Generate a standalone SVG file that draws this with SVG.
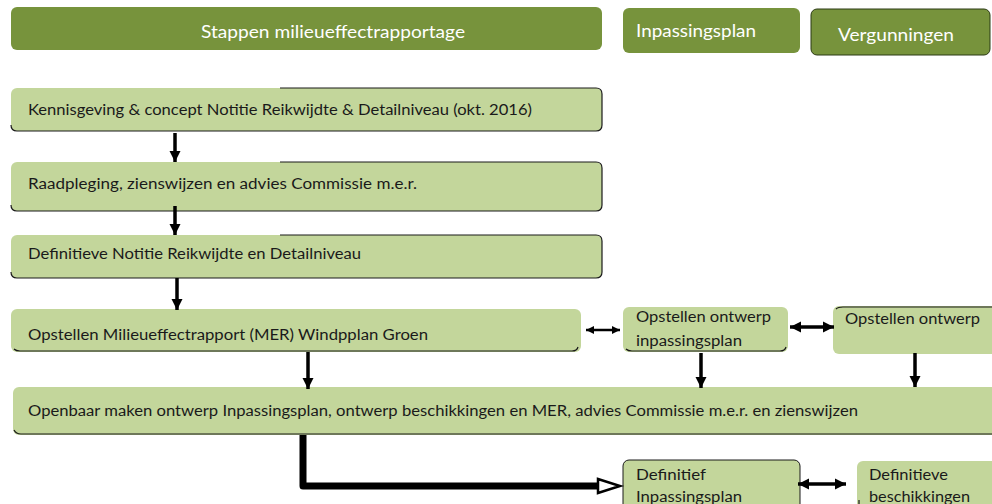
<svg xmlns="http://www.w3.org/2000/svg" width="992" height="504" viewBox="0 0 992 504">
<defs>
<style>
.hdr{fill:#77933C}
.box{fill:#C3D69B}
.edge{fill:none;stroke:#1a1a1a;stroke-width:1.2}
.t{font-family:Lato,"Open Sans","Liberation Sans",sans-serif;font-size:15.5px;fill:#1a1a1a}
.th{font-family:Lato,"Open Sans","Liberation Sans",sans-serif;font-size:17px;fill:#ffffff}
.ln{stroke:#000;stroke-width:3.5;fill:none}
</style>
<marker id="ah" viewBox="0 0 10 10" refX="10" refY="5" markerWidth="3.2" markerHeight="3.2" orient="auto-start-reverse" markerUnits="strokeWidth">
<path d="M0,0 L10,5 L0,10 Z" fill="#000"/>
</marker>
</defs>
<rect width="992" height="504" fill="#fff"/>
<g id="header-mer">
<rect class="hdr" x="11" y="7" width="591" height="43" rx="6"/>
<text class="th" x="333" y="38" text-anchor="middle" textLength="264" lengthAdjust="spacingAndGlyphs">Stappen milieueffectrapportage</text>
</g>
<g id="header-inpassingsplan">
<rect class="hdr" x="623" y="8" width="177" height="45" rx="6"/>
<text class="th" x="636" y="37" textLength="120" lengthAdjust="spacingAndGlyphs">Inpassingsplan</text>
</g>
<g id="header-vergunningen">
<rect class="hdr" x="811" y="9" width="179" height="46" rx="6" stroke="#2b3a14" stroke-width="1"/>
<text class="th" x="838" y="41" textLength="116" lengthAdjust="spacingAndGlyphs">Vergunningen</text>
</g>
<g id="kennisgeving">
<rect class="box" x="11" y="88" width="591" height="43" rx="6"/>
<path class="edge" d="M280,88 H596 Q602,88 602,94 V125 Q602,131 596,131 H17 Q11,131 11,125"/>
<text class="t" x="28" y="115" textLength="504" lengthAdjust="spacingAndGlyphs">Kennisgeving &amp; concept Notitie Reikwijdte &amp; Detailniveau (okt. 2016)</text>
</g>
<g id="raadpleging">
<rect class="box" x="11" y="162" width="591" height="49" rx="6"/>
<path class="edge" d="M280,162 H596 Q602,162 602,168 V205 Q602,211 596,211 H17 Q11,211 11,205"/>
<text class="t" x="28" y="189" textLength="389" lengthAdjust="spacingAndGlyphs">Raadpleging, zienswijzen en advies  Commissie m.e.r.</text>
</g>
<g id="definitieve-notitie">
<rect class="box" x="11" y="235" width="591" height="43" rx="6"/>
<path class="edge" d="M280,235 H596 Q602,235 602,241 V272 Q602,278 596,278 H17 Q11,278 11,272"/>
<text class="t" x="28" y="259" textLength="333" lengthAdjust="spacingAndGlyphs">Definitieve Notitie Reikwijdte en Detailniveau</text>
</g>
<g id="opstellen-mer">
<rect class="box" x="11" y="309" width="570" height="43" rx="6"/>
<path class="edge" d="M14,349 Q16,351 20,351 H572 Q577,351 578,347"/>
<text class="t" x="28" y="340" textLength="400" lengthAdjust="spacingAndGlyphs">Opstellen Milieueffectrapport (MER) Windpplan Groen</text>
</g>
<g id="ontwerp-inpassingsplan">
<rect class="box" x="623" y="307" width="165" height="45" rx="6"/>
<path class="edge" d="M626,349 Q628,351 632,351 H780 Q785,351 786,347"/>
<text class="t" x="636" y="322" textLength="135" lengthAdjust="spacingAndGlyphs">Opstellen ontwerp</text>
<text class="t" x="636" y="346" textLength="106" lengthAdjust="spacingAndGlyphs">inpassingsplan</text>
</g>
<g id="ontwerp-vergunningen">
<rect class="box" x="833" y="306" width="165" height="48" rx="6"/>
<path class="edge" d="M836,309 Q838,307 843,307 H992"/>
<text class="t" x="845" y="324" textLength="135" lengthAdjust="spacingAndGlyphs">Opstellen ontwerp</text>
</g>
<g id="openbaar-maken">
<rect class="box" x="13" y="387" width="985" height="48" rx="6"/>
<path class="edge" d="M14,430 Q16,434 21,434 H992"/>
<text class="t" x="28" y="416" textLength="830" lengthAdjust="spacingAndGlyphs">Openbaar maken ontwerp Inpassingsplan, ontwerp beschikkingen en MER, advies Commissie m.e.r. en zienswijzen</text>
</g>
<g id="definitief-inpassingsplan">
<rect class="box" x="623" y="460" width="177" height="50" rx="6" stroke="#1a1a1a" stroke-width="1"/>
<text class="t" x="636" y="480" textLength="70" lengthAdjust="spacingAndGlyphs">Definitief</text>
<text class="t" x="636" y="502" textLength="106" lengthAdjust="spacingAndGlyphs">Inpassingsplan</text>
</g>
<g id="definitieve-beschikkingen">
<rect class="box" x="857" y="461" width="141" height="50" rx="6"/>
<path class="edge" d="M859,500 V504"/>
<text class="t" x="869" y="480" textLength="79" lengthAdjust="spacingAndGlyphs">Definitieve</text>
<text class="t" x="869" y="502" textLength="101" lengthAdjust="spacingAndGlyphs">beschikkingen</text>
</g>
<g id="connectors">
<line class="ln" x1="175" y1="133" x2="175" y2="162" marker-end="url(#ah)"/>
<line class="ln" x1="175" y1="206" x2="175" y2="235" marker-end="url(#ah)"/>
<line class="ln" x1="177" y1="278" x2="177" y2="310" marker-end="url(#ah)"/>
<line class="ln" x1="308" y1="352" x2="308" y2="389" marker-end="url(#ah)"/>
<line class="ln" x1="701" y1="353" x2="701" y2="388" marker-end="url(#ah)"/>
<line class="ln" x1="915" y1="353" x2="915" y2="387" marker-end="url(#ah)"/>
<line x1="586" y1="330" x2="620" y2="330" stroke="#000" stroke-width="2.5" marker-start="url(#ah)" marker-end="url(#ah)"/>
<line x1="790" y1="327" x2="834" y2="327" stroke="#000" stroke-width="3.5" marker-start="url(#ah)" marker-end="url(#ah)"/>
<line x1="798" y1="484" x2="846" y2="484" stroke="#000" stroke-width="3.5" marker-start="url(#ah)" marker-end="url(#ah)"/>
<path d="M303,435 V486 H600" stroke="#000" stroke-width="7" fill="none" stroke-linejoin="round"/>
<path d="M598,479 L620,486 L598,493 Z" fill="#fff" stroke="#000" stroke-width="2.5" stroke-linejoin="miter"/>
</g>
</svg>
